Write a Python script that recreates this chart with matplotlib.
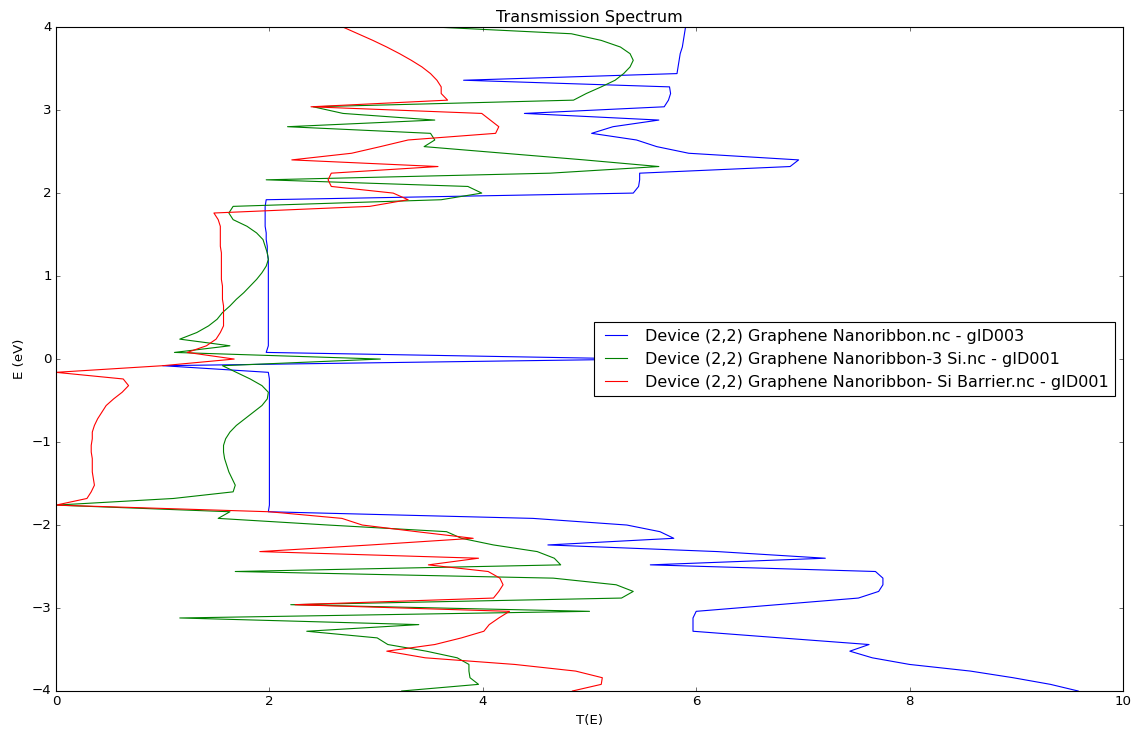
import matplotlib
matplotlib.use("Agg")
import matplotlib.pyplot as plt


# 能量网格 (eV)，从 4 到 -4，步长 0.08
energy = [
    4.00, 3.92, 3.84, 3.76, 3.68, 3.60, 3.52, 3.44, 3.36, 3.28,
    3.20, 3.12, 3.04, 2.96, 2.88, 2.80, 2.72, 2.64, 2.56, 2.48,
    2.40, 2.32, 2.24, 2.16, 2.08, 2.00, 1.92, 1.84, 1.76, 1.68,
    1.60, 1.52, 1.44, 1.36, 1.28, 1.20, 1.12, 1.04, 0.96, 0.88,
    0.80, 0.72, 0.64, 0.56, 0.48, 0.40, 0.32, 0.24, 0.16, 0.08,
    0.00, -0.08, -0.16, -0.24, -0.32, -0.40, -0.48, -0.56, -0.64, -0.72,
    -0.80, -0.88, -0.96, -1.04, -1.12, -1.20, -1.28, -1.36, -1.44, -1.52,
    -1.60, -1.68, -1.76, -1.84, -1.92, -2.00, -2.08, -2.16, -2.24, -2.32,
    -2.40, -2.48, -2.56, -2.64, -2.72, -2.80, -2.88, -2.96, -3.04, -3.12,
    -3.20, -3.28, -3.36, -3.44, -3.52, -3.60, -3.68, -3.76, -3.84, -3.92,
    -4.00,
]

# 纯石墨烯纳米带 gID003
trans_pure = [
    5.90, 5.89, 5.88, 5.87, 5.85, 5.84, 5.83, 5.82, 3.82, 5.75,
    5.76, 5.74, 5.70, 4.39, 5.65, 5.22, 5.02, 5.44, 5.63, 5.93,
    6.96, 6.88, 5.47, 5.47, 5.46, 5.41, 1.97, 1.96, 1.96, 1.96,
    1.96, 1.97, 1.97, 1.98, 1.98, 1.99, 1.99, 1.99, 1.99, 1.99,
    1.99, 1.99, 1.99, 1.99, 1.99, 1.99, 1.99, 1.99, 1.99, 1.97,
    5.52, 1.00, 1.99, 2.00, 2.00, 2.00, 2.00, 2.00, 2.00, 2.00,
    2.00, 2.00, 2.00, 2.00, 2.00, 2.00, 2.00, 2.00, 2.00, 2.00,
    2.00, 2.00, 2.00, 1.99, 4.47, 5.35, 5.66, 5.79, 4.61, 6.20,
    7.21, 5.57, 7.68, 7.75, 7.75, 7.71, 7.52, 6.76, 6.00, 5.97,
    5.97, 5.97, 6.79, 7.62, 7.44, 7.65, 8.00, 8.57, 8.97, 9.32,
    9.58,
]

# 掺 3 个 Si 的纳米带 gID001
trans_3si = [
    3.57, 4.83, 5.11, 5.29, 5.38, 5.41, 5.38, 5.32, 5.24, 5.11,
    4.97, 4.85, 2.41, 2.69, 3.55, 2.17, 3.51, 3.55, 3.45, 4.20,
    4.95, 5.65, 4.63, 1.97, 3.86, 3.99, 3.61, 1.66, 1.62, 1.66,
    1.79, 1.88, 1.94, 1.96, 1.98, 1.99, 1.97, 1.93, 1.88, 1.82,
    1.76, 1.69, 1.63, 1.56, 1.51, 1.43, 1.32, 1.16, 1.63, 1.11,
    3.04, 1.56, 1.69, 1.82, 1.93, 1.99, 1.98, 1.93, 1.85, 1.77,
    1.69, 1.63, 1.59, 1.57, 1.57, 1.58, 1.60, 1.62, 1.65, 1.68,
    1.66, 1.10, 0.00, 1.63, 1.52, 2.55, 3.66, 3.80, 4.10, 4.51,
    4.67, 4.73, 1.68, 4.66, 5.25, 5.41, 5.30, 2.20, 5.00, 1.16,
    3.40, 2.35, 3.01, 3.11, 3.47, 3.76, 3.87, 3.87, 3.88, 3.96,
    3.24,
]

# Si 势垒纳米带 gID001
trans_barrier = [
    2.69, 2.83, 2.97, 3.10, 3.22, 3.33, 3.43, 3.51, 3.57, 3.61,
    3.61, 3.67, 2.39, 3.99, 4.07, 4.15, 4.12, 3.30, 3.04, 2.77,
    2.21, 3.58, 2.58, 2.55, 2.58, 3.16, 3.30, 2.94, 1.48, 1.52,
    1.54, 1.54, 1.54, 1.54, 1.55, 1.55, 1.55, 1.55, 1.55, 1.56,
    1.56, 1.56, 1.57, 1.57, 1.57, 1.57, 1.54, 1.50, 1.41, 1.23,
    1.67, 1.00, 0.00, 0.63, 0.68, 0.62, 0.54, 0.47, 0.43, 0.39,
    0.36, 0.34, 0.34, 0.33, 0.33, 0.34, 0.34, 0.34, 0.35, 0.36,
    0.33, 0.29, 0.00, 2.00, 2.68, 2.87, 3.38, 3.91, 2.95, 1.91,
    3.96, 3.49, 4.05, 4.16, 4.19, 4.15, 4.10, 2.24, 4.25, 4.15,
    4.06, 4.01, 3.80, 3.55, 3.10, 3.46, 4.30, 4.87, 5.12, 5.11,
    4.84,
]

labels = [
    "Device (2,2) Graphene Nanoribbon.nc - gID003",
    "Device (2,2) Graphene Nanoribbon-3 Si.nc - gID001",
    "Device (2,2) Graphene Nanoribbon- Si Barrier.nc - gID001",
]


def plot_transmission(output_file):
    """
    画三个器件的透射谱，横轴 T(E)，纵轴能量 E。
    """
    plt.style.use("classic")

    fig = plt.figure(figsize=(1143 / 80, 733 / 80), dpi=80)
    ax = fig.add_subplot(111)
    fig.subplots_adjust(left=0.049, right=0.9825, bottom=0.0573, top=0.963)

    # classic 风格的颜色循环就是 b, g, r
    for trans, label in zip([trans_pure, trans_3si, trans_barrier], labels):
        ax.plot(trans, energy, label=label)

    ax.set_xlim(0, 10)
    ax.set_ylim(-4, 4)
    ax.set_title("Transmission Spectrum")
    ax.set_xlabel("T(E)")
    ax.set_ylabel("E (eV)")

    ax.legend(loc="center right")

    fig.savefig(output_file, dpi=80, facecolor="white")
    plt.close(fig)


def main():
    plot_transmission("out.png")


if __name__ == "__main__":
    main()
